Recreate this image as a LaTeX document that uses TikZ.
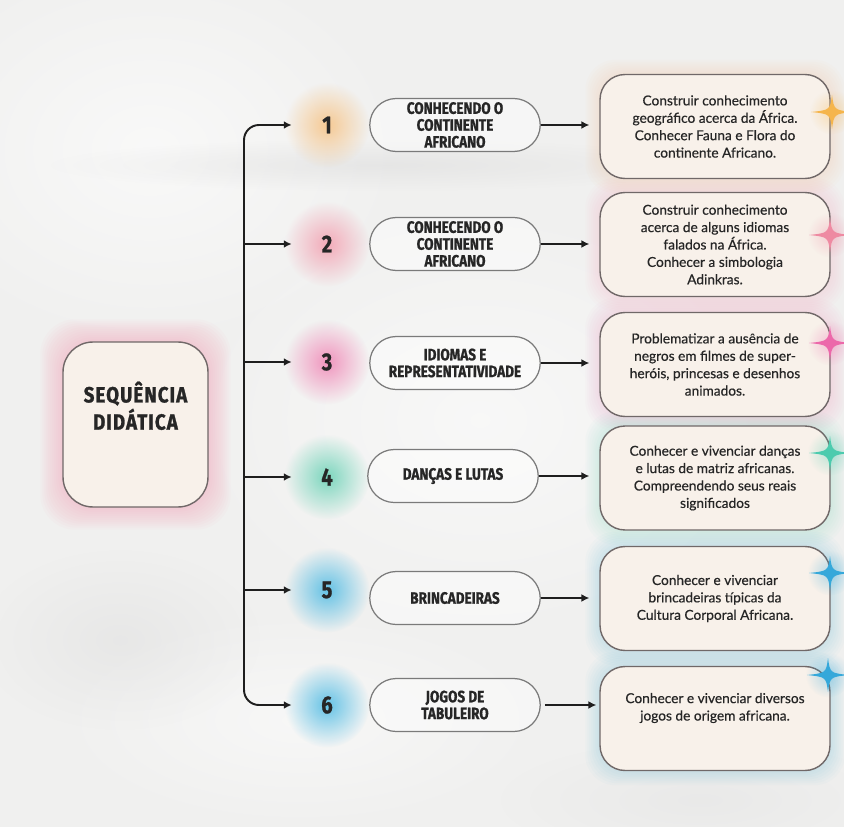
\documentclass[tikz,border=0pt]{standalone}
\usepackage{fontspec}
\usetikzlibrary{shapes.misc,arrows.meta,fadings}
\tikzfading[name=glowfade, inner color=transparent!0, outer color=transparent!100]
\newfontfamily\condfont[FakeStretch=0.82, BoldFeatures={FakeBold=0.9}]{Fira Sans}
\newfontfamily\titlefont[FakeStretch=0.85,LetterSpace=5, BoldFeatures={FakeBold=1.2}]{Fira Sans}
\newfontfamily\bodyfont[FakeBold=0.5]{Lato}
\definecolor{paper}{HTML}{F0F0EF}
\definecolor{cream}{HTML}{F8F1EA}
\definecolor{boxline}{HTML}{706868}
\definecolor{pillline}{HTML}{7A7A7A}
\definecolor{txt}{HTML}{262626}
\definecolor{linec}{HTML}{1E1E1E}
\definecolor{c1}{HTML}{F6C58A}
\definecolor{c2}{HTML}{F3A3B3}
\definecolor{c3}{HTML}{F08BB8}
\definecolor{c4}{HTML}{6FD3B8}
\definecolor{c5}{HTML}{55BDE4}
\definecolor{c6}{HTML}{55BDE4}
\definecolor{s1}{HTML}{F5B54C}
\definecolor{s2}{HTML}{EE8AA2}
\definecolor{s3}{HTML}{EC68AA}
\definecolor{s4}{HTML}{4CCBAE}
\definecolor{s5}{HTML}{35A8DA}
\definecolor{mainglow}{HTML}{F2A6BA}
\pgfdeclarelayer{paperlayer}
\pgfdeclarelayer{glowlayer}
\pgfsetlayers{paperlayer,glowlayer,main}
\tikzset{
  mainbox/.style={draw=boxline, line width=0.8pt, fill=cream, rounded corners=0.6cm,
    minimum width=2.9cm, minimum height=3.3cm, align=center, text=txt,
    font=\titlefont\bfseries\fontsize{12.5}{15.5}\selectfont},
  numnode/.style={circle, minimum size=1.4cm, inner sep=0pt, text=txt,
    font=\condfont\bfseries\fontsize{14}{16}\selectfont},
  pill/.style={rounded rectangle, draw=pillline, line width=0.7pt, fill=white, fill opacity=0.45,
    text opacity=1, minimum width=3.48cm, minimum height=1.06cm, align=center, text=txt,
    inner sep=1pt, font=\condfont\bfseries\fontsize{9.4}{9.6}\selectfont},
  infobox/.style={draw=boxline, line width=0.8pt, fill=cream, rounded corners=0.5cm,
    minimum width=4.6cm, minimum height=2.08cm, align=center, text=txt,
    font=\bodyfont\fontsize{7.8}{9.9}\selectfont},
  infotext/.style={align=center, text=txt, font=\bodyfont\fontsize{7.8}{9.9}\selectfont},
  arr/.style={line width=1.1pt, draw=linec, -{Latex[length=4.5pt,width=4.5pt]}},
  sparkle/.pic={\fill[pic actions] (0,-17) .. controls (2,-2) .. (21,0) .. controls (2,2) .. (0,17)
     .. controls (-2,2) .. (-21,0) .. controls (-2,-2) .. cycle;},
}
\begin{document}
\begin{tikzpicture}[x=0.02cm,y=-0.02cm]
\useasboundingbox (0,0) rectangle (844,827);
\begin{pgfonlayer}{paperlayer}
  \begin{scope}
  \clip (0,0) rectangle (844,827);
  \fill[paper] (0,0) rectangle (844,827);
  \fill[white, opacity=0.6, path fading=glowfade] (150,150) ellipse (260 and 200);
  \fill[white, opacity=0.55, path fading=glowfade] (480,420) ellipse (300 and 220);
  \fill[white, opacity=0.5, path fading=glowfade] (300,720) ellipse (250 and 110);
  \fill[gray!30, opacity=0.45, path fading=glowfade] (380,165) ellipse (330 and 26);
  \fill[gray!25, opacity=0.5, path fading=glowfade] (120,640) ellipse (140 and 90);
  \fill[gray!25, opacity=0.4, path fading=glowfade] (700,800) ellipse (200 and 60);
  \end{scope}
\end{pgfonlayer}

% central box
\node[mainbox] (main) at (135.5,424.5) {SEQUÊNCIA\\DIDÁTICA\\[6pt]};

% number nodes
\node[numnode] (n1) at (327,125) {1};
\node[numnode] (n2) at (327,244) {2};
\node[numnode] (n3) at (327,362) {3};
\node[numnode] (n4) at (327,477) {4};
\node[numnode] (n5) at (327,590) {5};
\node[numnode] (n6) at (327,705) {6};

% pills
\node[pill] (p1) at (455,125) {CONHECENDO O\\CONTINENTE\\AFRICANO};
\node[pill] (p2) at (455,244) {CONHECENDO O\\CONTINENTE\\AFRICANO};
\node[pill] (p3) at (455,363) {IDIOMAS E\\REPRESENTATIVIDADE};
\node[pill] (p4) at (453,476) {DANÇAS E LUTAS};
\node[pill] (p5) at (455,598) {BRINCADEIRAS};
\node[pill] (p6) at (455,705) {JOGOS DE\\TABULEIRO};

% info boxes
\node[infobox] (b1) at (715,126.5) {Construir conhecimento\\geográfico acerca da África.\\Conhecer Fauna e Flora do\\continente Africano.};
\node[infobox] (b2) at (715,244.5) {Construir conhecimento\\acerca de alguns idiomas\\falados na África.\\Conhecer a simbologia\\Adinkras.};
\node[infobox] (b3) at (715,364.5) {Problematizar a ausência de\\negros em filmes de super-\\heróis, princesas e desenhos\\animados.};
\node[infobox] (b4) at (715,478) {Conhecer e vivenciar danças\\e lutas de matriz africanas.\\Compreendendo seus reais\\significados};
\node[infobox] (b5) at (715,598.5) {Conhecer e vivenciar\\brincadeiras típicas da\\Cultura Corporal Africana.};
\node[infobox] (b6) at (715,718.5) {};
\node[infotext, anchor=north] (t6) at ([yshift=-0.42cm]b6.north) {Conhecer e vivenciar diversos\\jogos de origem africana.};

% glows
\begin{pgfonlayer}{glowlayer}
  \foreach \nm/\cl in {n1/c1,n2/c2,n3/c3,n4/c4,n5/c5,n6/c6}
    \fill[\cl, opacity=0.9, path fading=glowfade] (\nm) circle (0.85cm);
  \foreach \d in {2,4,...,22}
    \fill[mainglow, opacity=0.05, rounded corners=0.7cm]
      ([shift={(-\d,\d)}]main.south west) rectangle ([shift={(\d,-\d)}]main.north east);
  \foreach \nm/\cl in {b1/c1,b2/c2,b3/c3,b4/c4,b5/c5,b6/c6}
    \foreach \d in {2,4,...,14}
      \fill[\cl, opacity=0.03, rounded corners=0.6cm]
        ([shift={(-\d,\d)}]\nm.south west) rectangle ([shift={(\d,-\d)}]\nm.north east);
\end{pgfonlayer}

% trunk and branches
\coordinate (tr) at (244,416);
\draw[arr, rounded corners=0.3cm] (tr) |- (n1.west);
\draw[arr, rounded corners=0.3cm] (tr) |- (n6.west);
\draw[arr] (n2.west -| tr) -- (n2.west);
\draw[arr] (n3.west -| tr) -- (n3.west);
\draw[arr] (n4.west -| tr) -- (n4.west);
\draw[arr] (n5.west -| tr) -- (n5.west);

% pill to box connectors
\foreach \i in {1,...,5}
  \draw[arr, shorten >=0.2cm] (p\i.east) -- (p\i.east -| b\i.west);
\draw[arr, shorten >=0.06cm, shorten <=0.08cm] (p6.east) -- (p6.east -| b6.west);

% sparkles
\begin{scope}
\clip (0,0) rectangle (844,827);
\foreach \x/\y/\cl in {832/112/s1,830/235/s2,830/343/s3,830/453/s4,830/573/s5,828/675/s5}{
  \fill[\cl, opacity=0.35, path fading=glowfade] (\x,\y) circle (0.45cm);
  \pic[fill=\cl] at (\x,\y) {sparkle};
}
\end{scope}
\end{tikzpicture}
\end{document}
